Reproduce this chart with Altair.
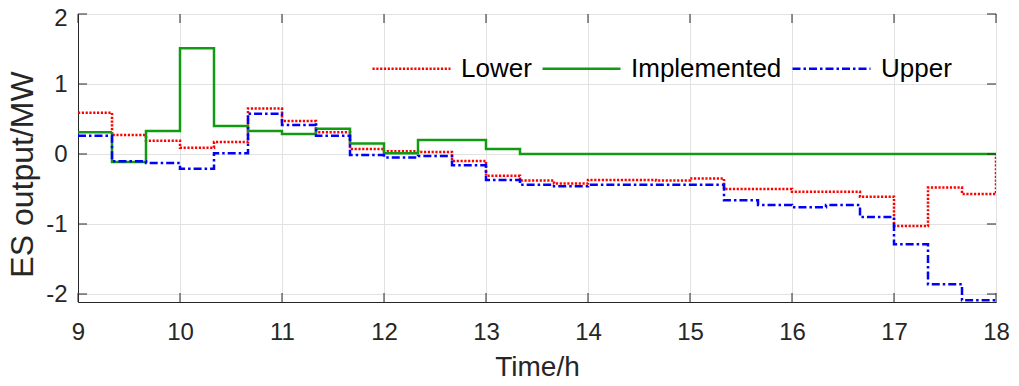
import altair as alt
import pandas as pd

# step start times (20-minute intervals) plus the final end point
time_labels = ["9:00", "9:20", "9:40", "10:00", "10:20", "10:40", "11:00", "11:20", "11:40",
               "12:00", "12:20", "12:40", "13:00", "13:20", "13:40", "14:00", "14:20", "14:40",
               "15:00", "15:20", "15:40", "16:00", "16:20", "16:40", "17:00", "17:20", "17:40",
               "18:00"]

series_names = ["Lower", "Implemented", "Upper"]

lower = [0.59, 0.27, 0.19, 0.09, 0.17, 0.65, 0.47, 0.31, 0.07, 0.04, 0.03, -0.10, -0.31, -0.38,
         -0.42, -0.37, -0.37, -0.38, -0.35, -0.50, -0.50, -0.54, -0.54, -0.61, -1.03, -0.48, -0.57,
         0.0]
implemented = [0.31, -0.115, 0.33, 1.51, 0.40, 0.33, 0.285, 0.36, 0.15, 0.01, 0.20, 0.20, 0.07,
               0.0, 0.0, 0.0, 0.0, 0.0, 0.0, 0.0, 0.0, 0.0, 0.0, 0.0, 0.0, 0.0, 0.0,
               0.0]
upper = [0.26, -0.105, -0.13, -0.21, 0.01, 0.576, 0.414, 0.26, -0.015, -0.05, -0.03, -0.16, -0.37,
         -0.44, -0.46, -0.44, -0.44, -0.44, -0.44, -0.66, -0.73, -0.76, -0.73, -0.90, -1.29, -1.86,
         -2.09, -2.09]

x_ticks = [9, 10, 11, 12, 13, 14, 15, 16, 17, 18]
y_ticks = [-2, -1, 0, 1, 2]
x_domain = [9, 18]
y_domain = [-2.114, 2]

colors = ["#ff0000", "#139a13", "#0000ff"]
dashes = [[2.2, 1.6], [1, 0], [8, 3, 2.5, 3]]


def to_hours(lbl):
    h, m = lbl.split(":")
    return int(h) + int(m) / 60.0


rows = []
for name, vals in zip(series_names, [lower, implemented, upper]):
    for lbl, v in zip(time_labels, vals):
        rows.append({"t": to_hours(lbl), "v": v, "series": name})
df = pd.DataFrame(rows)

W, H = 918, 288
FONT = "Liberation Sans"
TICK = 9
tick_col = "#262626"

x_axis = alt.Axis(values=x_ticks, title="Time/h", labelExpr="toString(datum.value)",
                  labelPadding=18, grid=True, labelFlush=False, tickSize=0,
                  labelFontSize=24, titleFontSize=28,
                  labelFont=FONT, titleFont=FONT, titleFontWeight="normal",
                  labelColor=tick_col, titleColor=tick_col,
                  titleX=W / 2, titleY=73, titleBaseline="alphabetic", titleAlign="center")
y_axis = alt.Axis(values=y_ticks, title="ES output/MW", labelExpr="toString(datum.value)",
                  labelPadding=11, grid=True, labelFlush=False, tickSize=0,
                  labelFontSize=24, titleFontSize=32,
                  labelOffset={"condition": {"test": "datum.value == 2", "value": 4}, "value": 0},
                  labelFont=FONT, titleFont=FONT, titleFontWeight="normal",
                  labelColor=tick_col, titleColor=tick_col,
                  titleX=-46, titleY=160, titleAngle=270, titleBaseline="alphabetic",
                  titleAlign="center")
x_scale = alt.Scale(domain=x_domain, nice=False, zero=False)
y_scale = alt.Scale(domain=y_domain, nice=False, zero=False)

legend = alt.Legend(
    orient="none", legendX=293, legendY=14, direction="horizontal", title=None,
    symbolType="stroke", symbolSize=6084, symbolStrokeWidth=2.5,
    labelFontSize=26, labelFont=FONT, labelColor="black", labelOffset=9,
    columnPadding=5, padding=0,
)

lines = alt.Chart(df).mark_line(interpolate="step-after", strokeWidth=2.5, clip=True).encode(
    x=alt.X("t:Q", scale=x_scale, axis=x_axis),
    y=alt.Y("v:Q", scale=y_scale, axis=y_axis),
    color=alt.Color("series:N", scale=alt.Scale(domain=series_names, range=colors), legend=legend),
    strokeDash=alt.StrokeDash("series:N", scale=alt.Scale(domain=series_names, range=dashes),
                              legend=legend),
)

xt = pd.DataFrame({"t": x_ticks})
yt = pd.DataFrame({"v": y_ticks})

xb = alt.Chart(xt).mark_rule(color=tick_col, strokeWidth=1).encode(
    x=alt.X("t:Q", scale=x_scale, axis=x_axis), y=alt.value(H), y2=alt.value(H - TICK))
xtp = alt.Chart(xt).mark_rule(color=tick_col, strokeWidth=1).encode(
    x=alt.X("t:Q", scale=x_scale, axis=x_axis), y=alt.value(0), y2=alt.value(TICK))
yl = alt.Chart(yt).mark_rule(color=tick_col, strokeWidth=1).encode(
    y=alt.Y("v:Q", scale=y_scale, axis=y_axis), x=alt.value(0), x2=alt.value(TICK))
yr = alt.Chart(yt).mark_rule(color=tick_col, strokeWidth=1).encode(
    y=alt.Y("v:Q", scale=y_scale, axis=y_axis), x=alt.value(W), x2=alt.value(W - TICK))

chart = alt.layer(lines, xb, xtp, yl, yr).properties(
    width=W, height=H,
    autosize=alt.AutoSizeParams(type="none"),
    padding={"left": 70, "top": 6, "right": 15, "bottom": 76},
    background="white",
).configure_view(stroke=tick_col, strokeWidth=1).configure_axis(
    gridColor="#e2e2e2", gridWidth=1, domainColor=tick_col, domainWidth=1,
)

chart.save("out.html", embed_options={"renderer": "svg", "actions": False})
